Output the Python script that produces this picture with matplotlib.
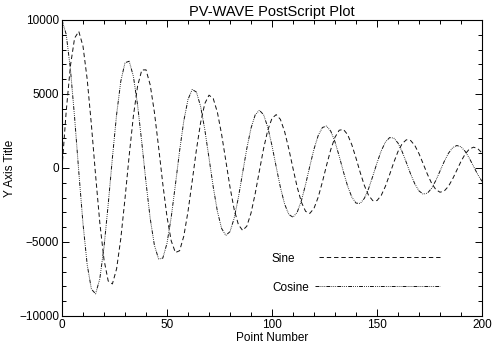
'''
Damped sine / cosine plot, PV-WAVE style
'''
import matplotlib
matplotlib.use('Agg')
import matplotlib.pyplot as plt
from matplotlib.ticker import MultipleLocator
import numpy as np

# point number, every 2nd point
point_number = np.arange(0, 201, 2)

sine_values = [
    0, 3817, 6893, 8778, 9227, 8227, 5991, 2912, -498, -3696,
    -6196, -7637, -7836, -6813, -4771, -2070, 846, 3517, 5538, 6620,
    6632, 5615, 3767, 1407, -1079, -3299, -4921, -5716, -5593, -4607,
    -2945, -891, 1221, 3060, 4353, 4919, 4701, 3761, 2275, 494,
    -1294, -2810, -3831, -4219, -3936, -3054, -1732, -193, 1314, 2559,
    3359, 3605, 3283, 2464, 1295, -29, -1297, -2314, -2932, -3071,
    -2728, -1975, -945, 191, 1252, 2078, 2549, 2606, 2257, 1571,
    668, -303, -1189, -1855, -2208, -2204, -1859, -1239, -450, 377,
    1113, 1648, 1906, 1858, 1524, 967, 281, -422, -1031, -1456,
    -1639, -1561, -1243, -745, -151, 443, 945, 1281, 1405, 1306,
    1008]

cosine_values = [
    10000, 9029, 6694, 3413, -270, -3765, -6540, -8191, -8507, -7491,
    -5351, -2466, 688, 3613, 5862, 7113, 7212, 6189, 4245, 1719,
    -975, -3411, -5223, -6154, -6093, -5089, -3335, -1132, 1160, 3182,
    4631, 5305, 5130, 4166, 2592, 679, -1265, -2936, -4086, -4557,
    -4303, -3391, -1989, -333, 1310, 2685, 3589, 3901, 3596, 2745,
    1501, 74, -1310, -2436, -3140, -3329, -2994, -2208, -1110, 117,
    1278, 2194, 2735, 2830, 2482, 1763, 798, -252, -1223, -1965,
    -2374, -2398, -2049, -1396, -552, 344, 1152, 1750, 2052, 2025,
    1684, 1096, 360, -402, -1073, -1550, -1769, -1704, -1377, -850,
    -211, 435, 988, 1367, 1519, 1429, 1120, 651, 98, -448,
    -902]

labels = ['Sine', 'Cosine']

plt.rcParams['font.family'] = ['Liberation Sans', 'DejaVu Sans']

fig = plt.figure(figsize = (5.0, 3.57), dpi = 100)
ax = fig.add_axes([0.124, 0.115, 0.84, 0.829])

sine_line, = ax.plot(point_number, sine_values, color = '#111111', lw = 0.7,
                     dashes = (4.5, 3), label = labels[0])
cos_line, = ax.plot(point_number, cosine_values, color = '#111111', lw = 0.7,
                    dashes = (4, 1.2, 0.8, 1.2, 0.8, 1.2, 0.8, 1.2),
                    label = labels[1])

ax.set_xlim(0, 200)
ax.set_ylim(-10000, 10000)
ax.xaxis.set_major_locator(MultipleLocator(50))
ax.xaxis.set_minor_locator(MultipleLocator(10))
ax.yaxis.set_major_locator(MultipleLocator(5000))
ax.yaxis.set_minor_locator(MultipleLocator(1000))
ax.tick_params(which = 'both', direction = 'in', top = True, right = True,
               labelsize = 8.5, width = 0.7, pad = 2)
ax.tick_params(which = 'major', length = 5)
ax.tick_params(which = 'minor', length = 3)
for s in ax.spines.values():
    s.set_linewidth(0.8)

ax.set_title('PV-WAVE PostScript Plot', fontsize = 10.5, pad = 3)
ax.set_xlabel('Point Number', fontsize = 8.5, labelpad = 1)
ax.set_ylabel('Y Axis Title', fontsize = 8.5, labelpad = 2)

# two one-entry legends: text first and left aligned, lines end together
leg1 = ax.legend([sine_line], [labels[0]], loc = 'center left',
                 bbox_to_anchor = (0.5, 0.194), frameon = False,
                 borderpad = 0, borderaxespad = 0, fontsize = 8.5,
                 handlelength = 10.3, handletextpad = 1.96,
                 markerfirst = False)
ax.add_artist(leg1)
ax.legend([cos_line], [labels[1]], loc = 'center left',
          bbox_to_anchor = (0.5, 0.096), frameon = False,
          borderpad = 0, borderaxespad = 0, fontsize = 8.5,
          handlelength = 10.6, handletextpad = 0.55, markerfirst = False)

fig.savefig('out.png', dpi = 100)
plt.close()
